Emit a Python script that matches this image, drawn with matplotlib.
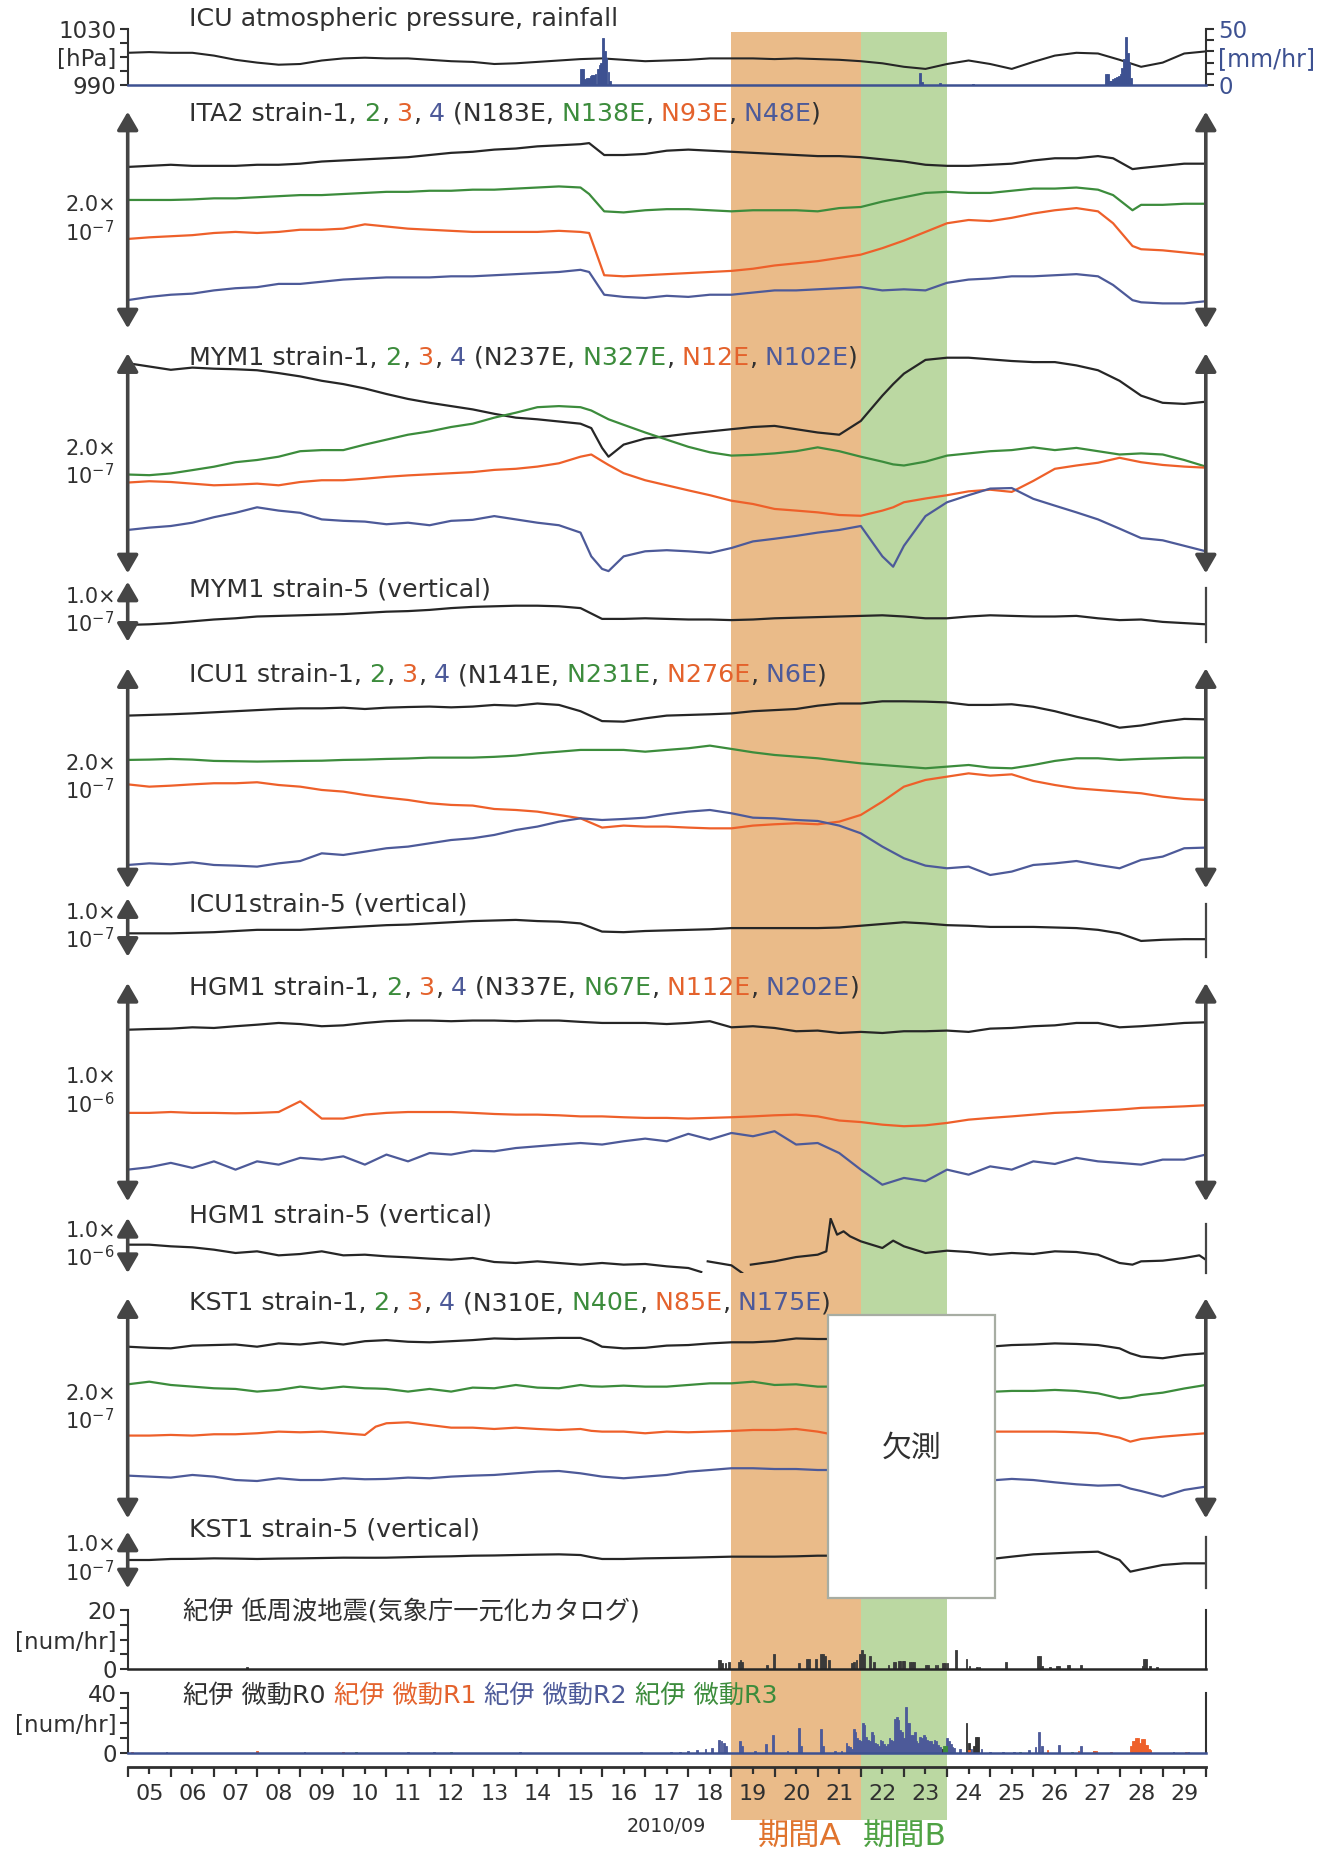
import numpy as np
import matplotlib
matplotlib.use("Agg")
import matplotlib.pyplot as plt
from matplotlib.patches import Rectangle
from matplotlib.transforms import blended_transform_factory

plt.rcParams['font.family'] = ['DejaVu Sans', 'Noto Sans CJK JP']
nan = np.nan

# ======================= DATA =======================
# time axis: day of September 2010 (5.0 = 5 Sep 00:00)
half_days = np.arange(5.0, 30.01, 0.5)
x_tick_labels = ['05', '06', '07', '08', '09', '10', '11', '12', '13', '14', '15', '16', '17',
                 '18', '19', '20', '21', '22', '23', '24', '25', '26', '27', '28', '29']
period_a = (19.0, 22.0)
period_b = (22.0, 24.0)
missing_span = (21.24, 25.12)

# ICU atmospheric pressure [hPa] (half-day samples) and rainfall [mm/hr]
pressure_hpa = [1013, 1013.5, 1013, 1013, 1011, 1008, 1006, 1004.5, 1005, 1007.5, 1009, 1009.5, 1009,
                1009, 1008, 1007, 1006.5, 1005, 1005.5, 1006.5, 1007.5, 1008.5, 1009, 1008, 1007, 1007.5,
                1008, 1009, 1009, 1009, 1008.5, 1009, 1008.5, 1008, 1007, 1005.5, 1003, 1001.5, 1005,
                1007.5, 1005, 1001.5, 1006.5, 1011, 1013, 1012.5, 1008, 1003, 1006, 1012.5, 1014]
rain_t = [15.52, 15.56, 15.60, 15.65, 15.69, 15.73, 15.77, 15.81, 15.85, 15.90, 15.94, 15.98, 16.02,
          16.06, 16.10, 16.15, 16.19, 23.38, 23.42, 23.84, 24.60, 27.69, 27.73, 27.77, 27.81, 27.85,
          27.90, 27.94, 27.98, 28.02, 28.06, 28.10, 28.15, 28.19, 28.23, 28.27]
rain_mm = [14, 14, 5, 6, 6, 8, 9, 9, 10, 14, 18, 20, 42, 30, 24, 12, 4, 10.5, 3, 2, 1, 10, 10, 4, 4, 5,
           6, 7, 8, 10, 15, 23, 43, 29, 20, 6]

# ITA2 strain (units 1e-9), components 1-4
t_ita2 = np.r_[np.arange(5, 15.51, .5), 15.7, 16.05, np.arange(16.5, 27.51, .5), 27.85, 28.3,
               np.arange(28.5, 30.01, .5)]
ita2_s1 = [149, 150, 151, 150, 150, 150, 151, 151, 152, 154, 155, 156, 157, 158, 160, 162, 163, 165, 166,
           168, 169, 170, 171, 160, 160, 161, 164, 165, 164, 163, 162, 161, 160, 159, 159, 158, 156, 154,
           151, 150, 150, 151, 152, 155, 157, 157, 159, 157, 147, 148, 150, 152, 152]
ita2_s2 = [118.5, 118.5, 118.5, 119, 120, 120, 121, 122, 123, 123, 124, 125, 126, 126, 127, 127, 128, 128,
           129, 130, 131, 130, 124, 108, 107, 109, 110, 110, 109, 108, 109, 109, 109, 108, 111, 112, 117,
           121, 125, 126, 125, 125, 127, 129, 129, 130, 128, 123, 109, 114, 114, 115, 115]
ita2_s3 = [82.5, 84, 85, 86, 88, 89, 88, 89, 91, 91, 92, 96, 94, 92, 91, 90, 89, 89, 89, 89, 90, 89, 88,
           49, 48, 49, 50, 51, 52, 53, 55, 58, 60, 62, 65, 68, 74, 81, 89, 97, 100, 99, 102, 106, 109,
           111, 108, 97, 76, 73, 72, 70, 68]
ita2_s4 = [26, 29, 31, 32, 35, 37, 38, 41, 41, 43, 45, 46, 47, 47, 47, 48, 48, 49, 50, 51, 52, 54, 52, 31,
           29, 28, 30, 29, 31, 31, 33, 35, 35, 36, 37, 38, 35, 36, 35, 42, 45, 46, 48, 48, 49, 50, 48,
           40, 26, 24, 23, 23, 25]

# MYM1 strain (units 1e-9)
t_mym1 = np.r_[np.arange(5, 15.51, .5), 15.75, 16.0, 16.15, np.arange(16.5, 22.51, .5), 22.75,
               np.arange(23.0, 30.01, .5)]
mym1_s1 = [191, 188, 185, 187, 186, 185.5, 184.6, 182, 179, 175, 172, 168, 163, 158.5, 155, 152, 149, 145,
           141.5, 140, 138, 136, 132, 114, 106, 117, 122.5, 124.6, 127, 129, 131, 133, 134, 131, 128, 126,
           138.5, 161.5, 172, 181.5, 194, 196, 196, 194.5, 193, 192, 192, 189, 184.6, 175, 161.5, 155,
           154, 156]
mym1_s2 = [89.8, 89.2, 90.8, 93.8, 96.9, 101, 103, 106, 111, 112, 112, 117, 121.5, 126, 129, 133, 136,
           141.5, 146, 151, 152, 151, 148, 143, 140, 135, 128, 121.5, 115, 110, 107, 107.7, 109, 111,
           114.5, 111, 106, 101.5, 99, 98, 101.5, 107, 109, 111, 112, 114.5, 112, 114, 111, 108, 109,
           108, 103, 97]
mym1_s3 = [82.5, 83.7, 83, 81.5, 80, 80.6, 81.5, 80, 83, 84.6, 84.6, 86, 87.7, 89, 90, 91, 92, 94, 95,
           97, 100, 106, 108, 102, 98.5, 91, 84.6, 80, 75.4, 71, 66, 63, 58.5, 57, 55.4, 53, 52.3, 57,
           60, 64.6, 68, 71, 74.5, 76, 74, 84, 95, 98, 100.5, 105, 101, 98.5, 97, 96]
mym1_s4 = [39.4, 41.5, 43, 46, 51, 55, 60, 57, 55, 49, 47.7, 47, 44.6, 46, 43.7, 47.7, 48.6, 52, 49, 46,
           43.7, 37, 15.4, 4, 2, 15.4, 20, 21, 20, 18.5, 23, 29, 31.4, 34, 37, 39.4, 43, 15.4, 6, 25, 52,
           64.6, 71, 77, 77.5, 67.7, 61.5, 55.4, 49, 40.6, 32, 30, 25, 20]
mym1_s5 = [28, 29, 31, 34, 37, 39, 42, 43, 44, 45, 46, 48, 50, 51, 53, 56, 58, 59, 60, 60, 59, 56, 38, 38,
           39, 38, 37, 37, 36, 37, 39, 40, 41, 42, 43, 44, 42, 39, 39, 42, 44, 43, 42, 42, 43, 39, 36,
           37, 33, 31, 29]

# ICU1 strain (units 1e-9), half-day samples
icu1_s1 = [157, 157.6, 158.2, 159, 160, 161, 162, 163, 163.6, 163.6, 164.2, 163, 164.2, 164.8, 165.2,
           164.5, 165.2, 166.7, 166, 168, 166.7, 161, 152, 151.5, 154.5, 157, 157.6, 158.2, 159, 161, 162,
           163, 166, 168, 168, 170, 170, 169.7, 169, 166.7, 166.7, 167.3, 165, 161, 156, 151.5, 146, 148,
           151.5, 154, 153.6]
icu1_s2 = [116.7, 117, 117.6, 117, 115.8, 115.5, 115.2, 115.5, 115.8, 116, 116.7, 117, 117.6, 118, 118.8,
           118.8, 118.8, 119.5, 120.6, 122.7, 124.2, 125.8, 125.8, 125.8, 124.2, 125.8, 127.3, 129.7,
           126.7, 123.6, 121.2, 119.7, 118.2, 115.8, 113.6, 112.1, 110.6, 109.1, 110.6, 112.1, 109.7,
           109.1, 112.1, 115.8, 118.2, 118.2, 116.7, 117.6, 118.2, 118.8, 118.8]
icu1_s3 = [94.5, 92.4, 93.3, 94.5, 95.5, 95.5, 96.4, 93.9, 92.4, 89.4, 87.9, 84.8, 82.4, 80.3, 77.3, 75.8,
           75.2, 72.1, 71.2, 69.7, 66.7, 63.6, 55.2, 57, 56.1, 56.1, 55.2, 54.5, 54.5, 57, 58.2, 59.1,
           58.2, 60.6, 66.7, 78.8, 92.4, 98.5, 101.5, 104.5, 102.4, 103.6, 97.6, 93.9, 90.9, 89.4, 87.9,
           86.4, 83.3, 81.2, 80.3]
icu1_s4 = [21.2, 22.7, 21.8, 23.6, 21.2, 20.6, 19.7, 22.7, 24.8, 31.8, 30.3, 33.3, 36.4, 37.9, 40.9, 43.9,
           45.5, 48.5, 53, 56.1, 60.6, 63.6, 62.1, 63, 64.2, 67.3, 69.7, 71.2, 68.2, 64.2, 63.6, 62.1,
           61.2, 57, 50, 37.9, 27.3, 20.6, 18.2, 19.7, 12.1, 15.2, 21.2, 22.7, 24.8, 21.2, 18.2, 25.8,
           28.8, 36.4, 37]
icu1_s5 = [40, 40, 40, 41, 42, 44, 46, 46, 46, 48, 50, 52, 54, 55, 57, 59, 61, 62, 63, 61, 60, 57, 43, 42,
           44, 45, 46, 47, 49, 49, 49, 49, 49, 50, 53, 56, 59, 57, 54, 53, 51, 51, 51, 50, 49, 46, 40,
           27, 29, 30, 30]

# HGM1 strain (units 1e-9), half-day samples (component 2 not shown)
hgm1_s1 = [786, 789, 791, 797, 794, 802, 809, 817, 812, 802, 806, 817, 825, 828, 828, 825, 828, 828, 825,
           828, 828, 822, 817, 817, 817, 812, 817, 825, 797, 802, 794, 779, 782, 771, 776, 771, 779, 779,
           782, 776, 791, 794, 802, 806, 817, 817, 797, 802, 809, 817, 820]
hgm1_s3 = [405, 405, 409, 405, 405, 403, 405, 409, 458, 379, 379, 397, 405, 409, 409, 409, 405, 400, 397,
           397, 394, 389, 389, 385, 382, 382, 379, 382, 385, 389, 394, 397, 389, 370, 363, 351, 344, 348,
           359, 374, 382, 389, 397, 405, 409, 415, 420, 428, 431, 435, 440]
hgm1_s4 = [145, 156, 176, 153, 183, 145, 183, 168, 199, 191, 206, 168, 214, 183, 221, 214, 232, 229, 244,
           252, 260, 267, 260, 275, 287, 275, 309, 283, 313, 298, 321, 260, 267, 221, 145, 76, 107, 92,
           145, 122, 160, 145, 183, 171, 199, 183, 176, 168, 191, 191, 214]
t_hgm5 = [5.0, 5.5, 6.0, 6.5, 7.0, 7.5, 8.0, 8.5, 9.0, 9.5, 10.0, 10.5, 11.0, 11.5, 12.0, 12.5, 13.0, 13.5,
          14.0, 14.5, 15.0, 15.5, 16.0, 16.5, 17.0, 17.5, 18.0, 18.3, 18.37, 18.45, 19.0, 19.25, 19.32,
          19.45, 20.0, 20.5, 21.0, 21.2, 21.3, 21.45, 21.6, 21.75, 22.0, 22.5, 22.75, 23.0, 23.5, 24.0,
          24.5, 25.0, 25.5, 26.0, 26.5, 27.0, 27.5, 28.0, 28.3, 28.5, 29.0, 29.5, 29.85, 30.0]
hgm1_s5 = [515, 515, 485, 467, 424, 364, 394, 321, 345, 394, 321, 333, 303, 285, 261, 242, 273, 200, 182,
           212, 182, 152, 182, 152, 164, 121, 91, 18, nan, 212, 139, 0, nan, 152, 212, 290, 333, 394, 988,
           697, 758, 667, 576, 455, 588, 485, 364, 406, 382, 333, 364, 345, 394, 382, 333, 182, 152, 212,
           224, 273, 321, 242]

# KST1 strain (units 1e-9); NaN = missing data (欠測)
t_kst1 = np.r_[np.arange(5, 10.51, .5), 10.75, np.arange(11, 15.51, .5), 15.75, np.arange(16, 21.01, .5),
               21.2, 23.0, 25.15, np.arange(25.5, 27.51, .5), 28.0, 28.25, 28.5, 29.0, 29.5, 30.0]
kst1_s1 = [156, 155, 154.5, 157, 157.5, 158, 156, 159, 158, 160, 158, 161, 161.5, 162, 160.5, 160, 161,
           162, 163.5, 163, 163.5, 164, 164, 161, 156, 154.5, 155, 157, 157.5, 159, 160, 160, 161, 163.5,
           163, 163, nan, 156.5, 157.5, 158, 159, 158.5, 157.5, 154.5, 150, 147, 145.5, 148.5, 150]
kst1_s2 = [121.8, 124.2, 121.2, 119.7, 118.2, 117.6, 115.2, 116.7, 119.7, 117.6, 119.7, 118.2, 118, 117.6,
           115.2, 117.6, 115.2, 118.8, 118.2, 121.2, 118.8, 118.2, 121.2, 120, 119.7, 120.6, 119.7, 119.7,
           121.2, 122.7, 122.7, 124.2, 121.2, 121.8, 119.7, 119.7, nan, 115.2, 115.8, 115.8, 116.7, 115.8,
           113.6, 109.1, 110, 112.1, 114.2, 118, 121.2]
kst1_s3 = [75.2, 75.2, 75.8, 75.2, 76.4, 76.4, 77.3, 78.8, 78.2, 78.8, 77.3, 75.8, 83.3, 86.4, 87.3, 84.8,
           82.4, 82.4, 81.2, 82.4, 81.2, 80.3, 81.2, 79.5, 78.8, 78.8, 77.3, 78.8, 78.2, 78.8, 79.4, 80.3,
           80.3, 81.2, 78.8, 77.3, nan, 78.8, 78.8, 78.8, 78.8, 78.2, 77.3, 73.3, 69.7, 72.1, 74.2, 75.8,
           77.3]
kst1_s4 = [38.8, 37.9, 37, 39.4, 37.9, 34.8, 33.9, 36.4, 34.8, 34.8, 36.4, 35.5, 35.6, 35.8, 37, 36.4,
           37.9, 38.8, 39.4, 40.9, 42.4, 43, 40.9, 39.4, 37.9, 36.4, 37.9, 39.4, 42.4, 43.9, 45.5, 45.5,
           44.8, 44.8, 43.9, 43.9, nan, 34.8, 35.8, 34.8, 32.7, 30.9, 29.7, 30.3, 27, 24.8, 19.7, 25.8, 28.8]
kst1_s5 = [50, 50, 51.8, 52, 52.9, 52.5, 51.8, 52.5, 52.9, 53.5, 54.1, 54, 54, 54.1, 55, 55.9, 56.5, 57.6,
           58, 58.8, 59.5, 60, 58.8, 55, 51.8, 51.8, 52.9, 53.5, 54.1, 55, 55.9, 55.9, 55.9, 56.5, 57.6,
           57.6, nan, 52.9, 55.9, 60, 61.8, 63.5, 64.7, 50, 29.4, 33.5, 41.2, 44.1, 44.1]

# Kii low-frequency earthquakes [num/hr]
lfe_t = [7.77, 18.70, 18.74, 18.78, 18.86, 18.95, 19.17, 19.21, 19.25, 19.83, 19.98, 20.56, 20.75, 20.79,
         20.96, 21.08, 21.12, 21.17, 21.27, 21.80, 21.85, 21.90, 21.99, 22.03, 22.08, 22.22, 22.30, 22.64,
         22.76, 22.80, 22.88, 22.92, 22.97, 23.01, 23.14, 23.18, 23.23, 23.52, 23.56, 23.73, 23.78, 23.90,
         23.95, 24.01, 24.20, 24.45, 24.52, 24.70, 24.75, 25.37, 26.11, 26.15, 26.20, 26.38, 26.55, 26.59,
         26.80, 26.84, 27.11, 28.53, 28.57, 28.62, 28.70, 28.87]
lfe_n = [0.8, 3, 3, 2, 2, 2.5, 2.5, 3, 2.5, 1.5, 5, 2, 3.5, 3.5, 3.5, 5, 5, 4.5, 3, 2, 2.5, 3, 5, 6.5, 5,
         4.5, 2.5, 1.5, 2.5, 2.5, 2.8, 2.8, 2.8, 2.8, 2.5, 2.5, 2.5, 1.3, 1.3, 1.5, 1.5, 2.2, 2.2, 2, 6.5,
         3.5, 1, 0.8, 0.8, 2.5, 4.5, 4.5, 1, 0.8, 1, 1, 1.5, 1.5, 1.5, 1, 3.5, 3.5, 1, 0.8]

# Kii tremor [num/hr] by region R0..R3
r2_t = [5.9, 9.1, 11.5, 12.1, 14.1, 16.9, 17.6, 17.8, 18.0, 18.2, 18.4, 18.55, 18.72, 18.77, 18.82, 18.87,
        19.2, 19.24, 19.55, 19.80, 19.97, 20.30, 20.57, 20.62, 21.07, 21.12, 21.4, 21.55,
        24.30, 24.55, 24.80, 25.00, 25.30, 25.55, 25.90, 26.05, 26.14, 26.20, 26.60, 27.10, 27.40, 28.30,
        28.50, 28.70, 29.25, 29.60]
r2_n = [1, 1, 1, 0.8, 0.8, 0.7, 1, 1, 1.5, 2, 2.5, 3.3, 8.4, 7.7, 7, 4.4, 7.7, 5, 1.5, 6.2, 12, 1.5, 17,
        5, 16, 5, 1.5, 1.5,
        2.6, 2.6, 2.6, 1, 1, 1, 2.2, 4, 13.7, 4.4, 5.5, 4.4, 1.3, 2.2, 2.2, 1.5, 1, 1]
r2_hourly_start = 21.667   # hourly counts 21.667 .. 24.17
r2_hourly_n = [6.6, 5, 4, 3, 16, 14, 10, 9, 8, 20, 19, 11, 9, 8, 13.7, 12, 7, 6, 5, 9, 8, 6, 5, 6, 10, 9,
               8, 23, 24, 22, 15.5, 14, 10, 31, 20, 20, 12, 12, 14.3, 7.7, 7, 11, 10, 12, 11, 9, 8, 7.7,
               6, 9, 8, 5.5, 4, 3, 3, 4, 10, 8, 6.2, 4, 3.3]
r0_t = [23.90, 24.45, 24.50, 24.62, 24.68, 24.72]
r0_n = [3, 20, 6.6, 4.4, 11, 11]
r1_t = [5.1, 8.0, 10.0, 24.5, 26.33, 27.05, 27.40, 27.45, 27.8, 28.27, 28.31, 28.35, 28.39, 28.43, 28.47,
        28.52, 28.56, 28.60, 28.64, 28.68, 28.72, 29.55]
r1_n = [1, 1.5, 1, 2, 1.8, 1.5, 1.5, 1.5, 1, 4.4, 7.7, 7.7, 10, 10, 7, 9.3, 9.3, 5.5, 5.5, 3, 2, 1]
r3_t = [10.3, 12.5, 23.93, 23.97, 25.7, 26.9]
r3_n = [1, 0.8, 4.4, 4.4, 0.8, 0.8]

# ======================= STYLE =======================
C_K, C_G, C_O, C_B = '#262626', '#3c8c3c', '#ee602a', '#4d5a99'
C_TXT, C_ARROW = '#303030', '#454545'
C_RAIN = '#3d5191'
C_BAND_A, C_BAND_B = '#eabb89', '#bbd8a2'
T_GREEN, T_ORANGE, T_BLUE = '#3c8c3c', '#e4622c', '#4d5a99'

W_PX, H_PX = 1330.0, 1853.0
XL, XR = 127.7, 1205.8

TITLE_FS = 18.2
LABEL_FS = 15
TICK_FS = 16.5

fig = plt.figure(figsize=(W_PX / 100, H_PX / 100), dpi=100)
fig.patch.set_facecolor('white')


def add_panel(top, bottom):
    ax = fig.add_axes([XL / W_PX, 1 - bottom / H_PX, (XR - XL) / W_PX, (bottom - top) / H_PX])
    ax.set_xlim(5, 30)
    ax.patch.set_alpha(0)
    for s in ax.spines.values():
        s.set_visible(False)
    ax.set_xticks([])
    ax.set_yticks([])
    return ax


def arrow(ax, x):
    ax.annotate('', xy=(x, 1), xytext=(x, 0), xycoords='axes fraction', textcoords='axes fraction',
                arrowprops=dict(arrowstyle='<|-|>,head_length=0.55,head_width=0.32', color=C_ARROW,
                                lw=2.6, shrinkA=0, shrinkB=0, mutation_scale=20),
                annotation_clip=False)


def rainbow(ax, x_px, y_px, parts, size):
    t = ax.text(x_px / W_PX, 1 - y_px / H_PX, parts[0][0], color=parts[0][1], fontsize=size,
                ha='left', va='center', transform=fig.transFigure)
    for s, c in parts[1:]:
        t = ax.annotate(s, xy=(1, 0), xycoords=t, ha='left', va='bottom', color=c, fontsize=size)
    return t


def strain_title(name, dirs):
    return [(name + ' strain-1,', C_TXT), (' 2', T_GREEN), (',', C_TXT), (' 3', T_ORANGE), (',', C_TXT),
            (' 4', T_BLUE), (' (' + dirs[0] + ',', C_TXT), (' ' + dirs[1], T_GREEN), (',', C_TXT),
            (' ' + dirs[2], T_ORANGE), (',', C_TXT), (' ' + dirs[3], T_BLUE), (')', C_TXT)]


def strain_panel(top, bottom, scale, t, series, colors, label, title_parts, title_y, four=True):
    ax = add_panel(top, bottom)
    ax.set_ylim(0, scale)
    for v, c in zip(series, colors):
        ax.plot(t, v, color=c, lw=1.6, solid_joinstyle='round')
    arrow(ax, 0)
    if four:
        arrow(ax, 1)
    else:
        ax.plot([1, 1], [0.0, 0.9], transform=ax.transAxes, color=C_ARROW, lw=1.6, clip_on=False)
    ax.text(-0.011, 0.5, label, transform=ax.transAxes, ha='right', va='center', fontsize=LABEL_FS,
            linespacing=1.2, color=C_TXT, multialignment='left')
    rainbow(ax, 189, title_y, title_parts, TITLE_FS)
    return ax


# ---------------- pressure / rainfall ----------------
ax_p = add_panel(29, 85)
ax_p.set_ylim(990, 1030)
ax_p.plot(half_days, pressure_hpa, color=C_K, lw=1.5)
ax_p.spines['left'].set_visible(True)
ax_p.spines['left'].set_color(C_TXT)
ax_p.spines['left'].set_linewidth(1.5)
ax_p.set_yticks([990, 1000, 1010, 1020, 1030])
ax_p.set_yticklabels(['990', '', '[hPa]', '', '1030'])
ax_p.tick_params(axis='y', direction='out', length=6, width=1.5, labelsize=TICK_FS, colors=C_TXT, pad=2)
ax_r = ax_p.twinx()
ax_r.patch.set_alpha(0)
ax_r.set_xlim(5, 30)
ax_r.set_ylim(0, 50)
ax_r.bar(rain_t, rain_mm, width=1 / 24, color=C_RAIN, edgecolor=C_RAIN, lw=0.6)
for k in ['left', 'top']:
    ax_r.spines[k].set_visible(False)
ax_r.spines['right'].set_color(C_TXT)
ax_r.spines['right'].set_linewidth(1.5)
ax_r.spines['bottom'].set_color(C_RAIN)
ax_r.spines['bottom'].set_linewidth(1.8)
ax_r.set_yticks([0, 10, 20, 30, 40, 50])
ax_r.set_yticklabels(['0', '', '', '', '', '50'])
ax_r.tick_params(axis='y', direction='out', length=6, width=1.5, labelsize=TICK_FS, color=C_TXT,
                 labelcolor=C_RAIN, pad=3)
ax_r.text(1.011, 0.47, '[mm/hr]', transform=ax_r.transAxes, ha='left', va='center', fontsize=17,
          color=C_RAIN)
rainbow(ax_p, 189, 19, [('ICU atmospheric pressure, rainfall', C_TXT)], TITLE_FS)

# ---------------- strain panels ----------------
lab_2e7 = '2.0\u00d7\n10$^{-7}$'
lab_1e7 = '1.0\u00d7\n10$^{-7}$'
lab_1e6 = '1.0\u00d7\n10$^{-6}$'
cols4 = [C_K, C_G, C_O, C_B]

strain_panel(111.7, 328.3, 200, t_ita2, [ita2_s1, ita2_s2, ita2_s3, ita2_s4], cols4, lab_2e7,
             strain_title('ITA2', ['N183E', 'N138E', 'N93E', 'N48E']), 114)
strain_panel(353.3, 573.3, 200, t_mym1, [mym1_s1, mym1_s2, mym1_s3, mym1_s4], cols4, lab_2e7,
             strain_title('MYM1', ['N237E', 'N327E', 'N12E', 'N102E']), 358)
strain_panel(581.7, 641.7, 100, half_days, [mym1_s5], [C_K], lab_1e7,
             [('MYM1 strain-5 (vertical)', C_TXT)], 590, four=False)
strain_panel(668.3, 888.3, 200, half_days, [icu1_s1, icu1_s2, icu1_s3, icu1_s4], cols4, lab_2e7,
             strain_title('ICU1', ['N141E', 'N231E', 'N276E', 'N6E']), 675)
strain_panel(898.3, 956.7, 100, half_days, [icu1_s5], [C_K], lab_1e7,
             [('ICU1strain-5 (vertical)', C_TXT)], 905, four=False)
strain_panel(983.0, 1201.3, 1000, half_days, [hgm1_s1, hgm1_s3, hgm1_s4], [C_K, C_O, C_B], lab_1e6,
             strain_title('HGM1', ['N337E', 'N67E', 'N112E', 'N202E']), 988)
strain_panel(1218.0, 1273.0, 1000, t_hgm5, [hgm1_s5], [C_K], lab_1e6,
             [('HGM1 strain-5 (vertical)', C_TXT)], 1216, four=False)
strain_panel(1298.3, 1518.3, 200, t_kst1, [kst1_s1, kst1_s2, kst1_s3, kst1_s4], cols4, lab_2e7,
             strain_title('KST1', ['N310E', 'N40E', 'N85E', 'N175E']), 1303)
strain_panel(1531.7, 1588.3, 100, t_kst1, [kst1_s5], [C_K], lab_1e7,
             [('KST1 strain-5 (vertical)', C_TXT)], 1530, four=False)


# ---------------- LFE / tremor ----------------
def count_panel(top, bottom, ymax, base_color):
    ax = add_panel(top, bottom)
    ax.set_ylim(0, ymax)
    ax.spines['left'].set_visible(True)
    ax.spines['right'].set_visible(True)
    ax.spines['bottom'].set_visible(True)
    for k in ['left', 'right']:
        ax.spines[k].set_color(C_TXT)
        ax.spines[k].set_linewidth(1.5)
    ax.spines['bottom'].set_color(base_color)
    ax.spines['bottom'].set_linewidth(1.8)
    ax.set_yticks(np.linspace(0, ymax, 5))
    ax.set_yticklabels(['0', '', '[num/hr]', '', str(ymax)])
    ax.tick_params(axis='y', direction='out', length=6, width=1.5, labelsize=TICK_FS, colors=C_TXT, pad=2)
    return ax


ax_l = count_panel(1610, 1669, 20, C_K)
ax_l.bar(lfe_t, lfe_n, width=1 / 24, color='#3a3a3a', edgecolor='#3a3a3a', lw=0.6)
rainbow(ax_l, 183, 1612, [('紀伊 低周波地震(気象庁一元化カタログ)', C_TXT)], TITLE_FS)

ax_t = count_panel(1693, 1753, 40, C_RAIN)
r2_hours = r2_hourly_start + np.arange(len(r2_hourly_n)) / 24
ax_t.bar(r2_t, r2_n, width=1 / 24, color=C_B, edgecolor=C_B, lw=0.6)
ax_t.bar(r2_hours, r2_hourly_n, width=1 / 24, color=C_B, edgecolor=C_B, lw=0.6)
ax_t.bar(r0_t, r0_n, width=1 / 24, color='#333333', edgecolor='#333333', lw=0.6)
ax_t.bar(r1_t, r1_n, width=1 / 24, color=C_O, edgecolor=C_O, lw=0.6)
ax_t.bar(r3_t, r3_n, width=1 / 24, color=C_G, edgecolor=C_G, lw=0.6)
rainbow(ax_t, 183, 1696, [('紀伊 微動R0', C_TXT), (' 紀伊 微動R1', T_ORANGE), (' 紀伊 微動R2', T_BLUE),
                          (' 紀伊 微動R3', T_GREEN)], TITLE_FS)

# ---------------- x axis ----------------
ax_x = add_panel(1766, 1767)
ax_x.spines['bottom'].set_visible(True)
ax_x.spines['bottom'].set_color(C_TXT)
ax_x.spines['bottom'].set_linewidth(2)
ax_x.set_xticks(np.arange(5, 31, 1))
ax_x.set_xticklabels([''] * 26)
ax_x.set_xticks(np.arange(5.5, 30, 1), minor=True)
ax_x.set_xticklabels(x_tick_labels, minor=True)
ax_x.tick_params(axis='x', which='major', direction='out', length=7.5, width=1.6, colors=C_TXT)
ax_x.tick_params(axis='x', which='minor', direction='out', length=5, width=1.6, colors=C_TXT,
                 labelsize=16, pad=7)

trans = blended_transform_factory(ax_x.transData, fig.transFigure)
band_top, band_bot = 32, 1820
for (a, b), c in [(period_a, C_BAND_A), (period_b, C_BAND_B)]:
    fig.add_artist(Rectangle((a, 1 - band_bot / H_PX), b - a, (band_bot - band_top) / H_PX,
                             transform=trans, facecolor=c, edgecolor='none', zorder=-10))

fig.add_artist(Rectangle((missing_span[0], 1 - 1598 / H_PX), missing_span[1] - missing_span[0],
                         (1598 - 1315) / H_PX, transform=trans, facecolor='white', edgecolor='#a7ada3',
                         lw=1.6, zorder=10))
fig.text(sum(missing_span) / 2, 1 - 1448 / H_PX, '欠測', transform=trans, ha='center', va='center',
         fontsize=21.5, color=C_TXT, zorder=11)

fig.text(17.5, 1 - 1826 / H_PX, '2010/09', transform=trans, ha='center', va='center', fontsize=13.8,
         color=C_TXT)
fig.text(sum(period_a) / 2 + 0.08, 1 - 1837 / H_PX, '期間A', transform=trans, ha='center', va='center',
         fontsize=22.5, color='#e0742e')
fig.text(sum(period_b) / 2 + 0.03, 1 - 1837 / H_PX, '期間B', transform=trans, ha='center', va='center',
         fontsize=22.5, color='#4fa244')

fig.savefig('out.png', dpi=100, facecolor='white')
